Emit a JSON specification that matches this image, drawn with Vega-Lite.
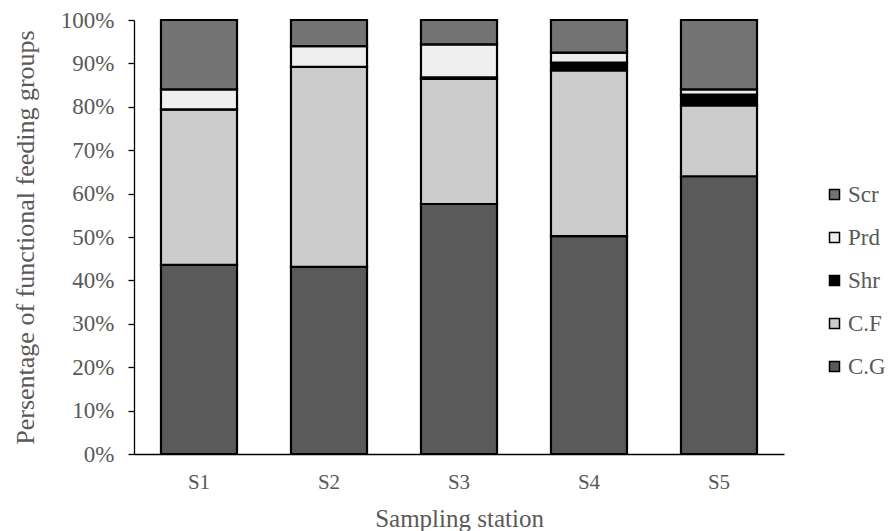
{
  "$schema": "https://vega.github.io/schema/vega-lite/v6.json",
  "autosize": "none",
  "width": 650,
  "height": 434,
  "padding": {"left": 134, "top": 20, "right": 104, "bottom": 77},
  "background": "white",
  "config": {
    "view": {"stroke": null},
    "font": "Liberation Serif"
  },
  "data": {
    "values": [
      {"s": "S1", "g": "C.G", "v": 43.6}, {"s": "S1", "g": "C.F", "v": 35.8}, {"s": "S1", "g": "Shr", "v": 0}, {"s": "S1", "g": "Prd", "v": 4.6}, {"s": "S1", "g": "Scr", "v": 16.0},
      {"s": "S2", "g": "C.G", "v": 43.1}, {"s": "S2", "g": "C.F", "v": 46.1}, {"s": "S2", "g": "Shr", "v": 0}, {"s": "S2", "g": "Prd", "v": 4.8}, {"s": "S2", "g": "Scr", "v": 6.0},
      {"s": "S3", "g": "C.G", "v": 57.6}, {"s": "S3", "g": "C.F", "v": 28.8}, {"s": "S3", "g": "Shr", "v": 0.4}, {"s": "S3", "g": "Prd", "v": 7.6}, {"s": "S3", "g": "Scr", "v": 5.6},
      {"s": "S4", "g": "C.G", "v": 50.2}, {"s": "S4", "g": "C.F", "v": 38.2}, {"s": "S4", "g": "Shr", "v": 1.8}, {"s": "S4", "g": "Prd", "v": 2.3}, {"s": "S4", "g": "Scr", "v": 7.5},
      {"s": "S5", "g": "C.G", "v": 64.0}, {"s": "S5", "g": "C.F", "v": 16.3}, {"s": "S5", "g": "Shr", "v": 2.5}, {"s": "S5", "g": "Prd", "v": 1.2}, {"s": "S5", "g": "Scr", "v": 16.0}
    ]
  },
  "transform": [
    {"calculate": "indexof(['C.G','C.F','Shr','Prd','Scr'], datum.g)", "as": "k"}
  ],
  "mark": {"type": "bar", "stroke": "black", "strokeWidth": 2.2},
  "encoding": {
    "x": {
      "field": "s", "type": "nominal",
      "scale": {"paddingInner": 0.415, "paddingOuter": 0.2075},
      "axis": {
        "title": "Sampling station", "titleFont": "Liberation Serif", "titleFontSize": 25, "titleFontWeight": "normal", "titleColor": "#595959", "titlePadding": 14,
        "labelAngle": 0, "labelFontSize": 21, "labelColor": "#595959", "labelPadding": 17,
        "ticks": false, "domainColor": "black", "domainWidth": 1.3
      }
    },
    "y": {
      "field": "v", "type": "quantitative", "stack": "normalize",
      "scale": {"domain": [0, 1], "nice": false},
      "axis": {
        "title": "Persentage of functional feeding groups", "titleFont": "Liberation Serif", "titleFontSize": 26, "titleFontWeight": "normal", "titleColor": "#595959", "titlePadding": 22,
        "format": ".0%", "values": [0, 0.1, 0.2, 0.3, 0.4, 0.5, 0.6, 0.7, 0.8, 0.9, 1],
        "labelFontSize": 23, "labelColor": "#595959", "labelPadding": 14,
        "tickSize": 6, "tickColor": "black", "tickWidth": 1.3, "domainColor": "black", "domainWidth": 1.3, "grid": false
      }
    },
    "color": {
      "field": "g", "type": "nominal",
      "scale": {"domain": ["Scr", "Prd", "Shr", "C.F", "C.G"], "range": ["#737373", "#efefef", "#000000", "#cccccc", "#5a5a5a"]},
      "legend": {
        "title": null, "orient": "none", "legendX": 689, "legendY": 163,
        "symbolType": "square", "symbolSize": 100, "symbolStrokeColor": "black", "symbolStrokeWidth": 1.5, "symbolOpacity": 1,
        "labelFontSize": 23, "labelColor": "#595959", "labelOffset": 2, "rowPadding": 19
      }
    },
    "order": {"field": "k", "type": "quantitative", "sort": "ascending"}
  }
}
